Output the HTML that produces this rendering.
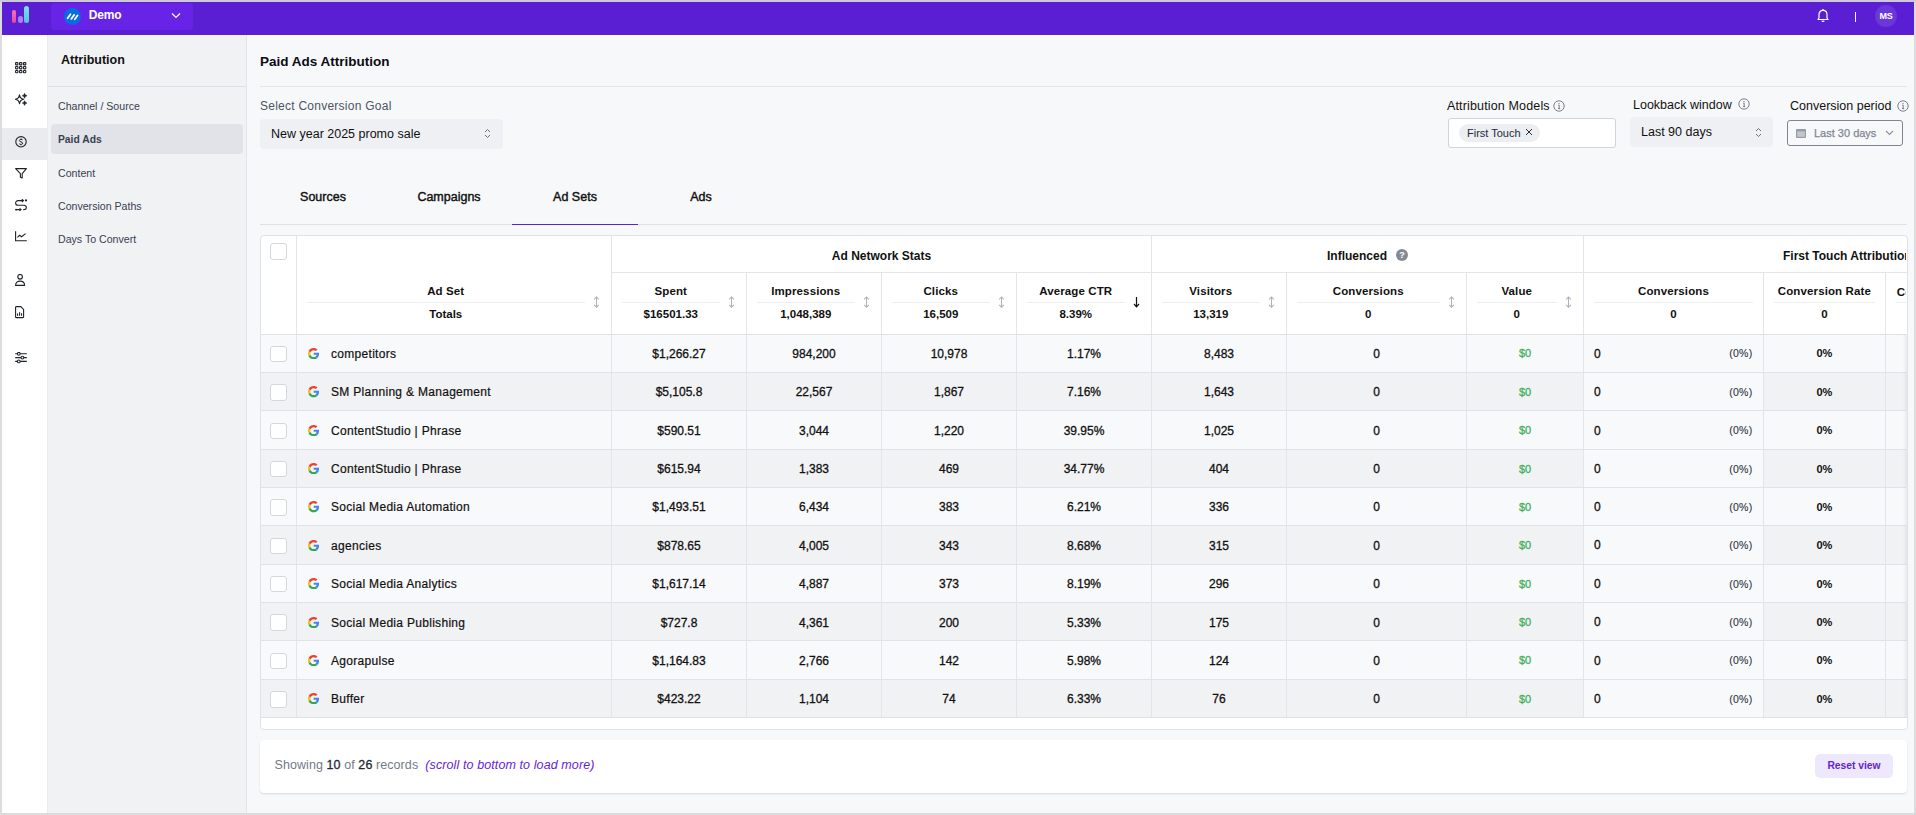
<!DOCTYPE html><html><head><meta charset="utf-8"><style>
*{box-sizing:border-box;margin:0;padding:0}
html,body{width:1916px;height:815px;overflow:hidden}
body{position:relative;background:#dcdcdc;font-family:"Liberation Sans",sans-serif;color:#111827}
.abs{position:absolute}
.t{position:absolute;white-space:nowrap;line-height:1}
.med{-webkit-text-stroke:0.25px currentColor}
</style></head><body>
<div class="abs" style="left:0;top:0;width:1916px;height:2px;background:#cfc8da"></div>
<div class="abs" style="left:2px;top:2px;width:1912px;height:811px;background:#f7f8fa;overflow:hidden">
<div class="abs" style="left:0;top:0;width:1912px;height:33px;background:#5a1fd3"></div>
<div class="abs" style="left:10px;top:8px;width:4px;height:13px;border-radius:2px;background:linear-gradient(#f472b6,#ec4899)"></div>
<div class="abs" style="left:16px;top:14px;width:5px;height:7px;border-radius:2.5px;background:#b07cf5"></div>
<div class="abs" style="left:22px;top:4px;width:5px;height:17px;border-radius:2.5px;background:linear-gradient(#7ee0ea,#4fc3e0)"></div>
<div class="abs" style="left:49px;top:0.5px;width:142px;height:27.5px;border-radius:4px;background:#6824e6"></div>
<div class="abs" style="left:62px;top:5.5px;width:17px;height:17px;border-radius:50%;background:#0a6ae0"></div>
<svg class="abs" style="left:62px;top:5.5px" width="17" height="17" viewBox="0 0 17 17"><g stroke="#f4f8ff" stroke-width="1.8" stroke-linecap="round"><path d="M3.6 10.2 L6.5 6.2"/><path d="M7.3 10.9 L10.2 6.9"/><path d="M10.8 11.2 L13.5 7.4"/></g></svg>
<div class="t" style="left:86.8px;top:7.4px;font-size:12px;letter-spacing:-0.2px;font-weight:700;color:#fff">Demo</div>
<svg class="abs" style="left:169.2px;top:10.2px" width="10" height="7" viewBox="0 0 10 7"><path d="M1 1.5 L5 5.5 L9 1.5" fill="none" stroke="#fff" stroke-width="1.2"/></svg>
<svg class="abs" style="left:1814px;top:6.4px" width="14" height="15" viewBox="0 0 14 15"><path d="M2 11.5 L3 10 L3 6.5 C3 4 4.6 2.3 7 2.3 C9.4 2.3 11 4 11 6.5 L11 10 L12 11.5 Z" fill="none" stroke="#fff" stroke-width="1.2" stroke-linejoin="round"/><path d="M5.8 12.8 C6.2 13.6 7.8 13.6 8.2 12.8" fill="none" stroke="#fff" stroke-width="1.2"/><circle cx="7" cy="1.8" r="0.8" fill="#fff"/></svg>
<div class="abs" style="left:1853px;top:10px;width:1px;height:10px;background:#fff"></div>
<div class="abs" style="left:1873px;top:3px;width:22px;height:22px;border-radius:50%;background:#6a38d8"></div>
<div class="t" style="left:1876px;top:9.5px;width:16px;text-align:center;font-size:9px;font-weight:700;color:#fff;letter-spacing:-0.2px">MS</div>
<div class="abs" style="left:0;top:33px;width:45px;height:778px;background:#fff"></div>
<div class="abs" style="left:0;top:126px;width:45px;height:32px;background:#e9ebef"></div>
<svg class="abs" style="left:12.9px;top:60.4px" width="12" height="12" viewBox="0 0 12 12"><rect x="0.60" y="0.60" width="2.3" height="2.3" rx="0.5" fill="none" stroke="#1f2328" stroke-width="1.1"/><rect x="0.60" y="4.55" width="2.3" height="2.3" rx="0.5" fill="none" stroke="#1f2328" stroke-width="1.1"/><rect x="0.60" y="8.50" width="2.3" height="2.3" rx="0.5" fill="none" stroke="#1f2328" stroke-width="1.1"/><rect x="4.55" y="0.60" width="2.3" height="2.3" rx="0.5" fill="none" stroke="#1f2328" stroke-width="1.1"/><rect x="4.55" y="4.55" width="2.3" height="2.3" rx="0.5" fill="none" stroke="#1f2328" stroke-width="1.1"/><rect x="4.55" y="8.50" width="2.3" height="2.3" rx="0.5" fill="none" stroke="#1f2328" stroke-width="1.1"/><rect x="8.50" y="0.60" width="2.3" height="2.3" rx="0.5" fill="none" stroke="#1f2328" stroke-width="1.1"/><rect x="8.50" y="4.55" width="2.3" height="2.3" rx="0.5" fill="none" stroke="#1f2328" stroke-width="1.1"/><rect x="8.50" y="8.50" width="2.3" height="2.3" rx="0.5" fill="none" stroke="#1f2328" stroke-width="1.1"/></svg>
<svg class="abs" style="left:12.9px;top:90.5px" width="16" height="16" viewBox="0 0 16 16"><g transform="translate(-2,-2)"><path d="M6.5 3.8 Q7.0 7.6 10.7 8.2 Q7.0 8.8 6.5 12.6 Q6.0 8.8 2.3 8.2 Q6.0 7.6 6.5 3.8 Z" fill="none" stroke="#1f2328" stroke-width="1.15" stroke-linejoin="round"/><path d="M11.6 2.3 Q12.0 4.4 14.1 4.8 Q12.0 5.2 11.6 7.3 Q11.2 5.2 9.1 4.8 Q11.2 4.4 11.6 2.3 Z M11.6 9.7 Q12.0 11.6 14.0 12.0 Q12.0 12.4 11.6 14.4 Q11.2 12.4 9.2 12.0 Q11.2 11.6 11.6 9.7 Z" fill="#1f2328" stroke="#1f2328" stroke-width="0.5" stroke-linejoin="round"/></g></svg>
<svg class="abs" style="left:12.9px;top:134.0px" width="12" height="12" viewBox="0 0 12 12"><circle cx="6" cy="5.8" r="5.2" fill="none" stroke="#1f2328" stroke-width="1.1"/><path d="M7.6 3.9 C7.2 3.2 4.4 3.0 4.4 4.6 C4.4 6.2 7.7 5.6 7.7 7.2 C7.7 8.7 5 8.6 4.3 7.8 M6 2.5 V3.3 M6 8.4 V9.2" fill="none" stroke="#1f2328" stroke-width="1"/></svg>
<svg class="abs" style="left:13.0px;top:166.4px" width="13" height="12" viewBox="0 0 13 12"><path d="M0.6 0.6 H11.4 L7.2 5.6 V10 L5.4 9.2 V5.6 Z" fill="none" stroke="#1f2328" stroke-width="1.1" stroke-linejoin="round"/></svg>
<svg class="abs" style="left:13.0px;top:196.8px" width="13" height="13" viewBox="0 0 13 13"><path d="M8.2 1.6 H3.2 C1.6 1.6 0.6 2.6 0.6 4 C0.6 5.5 1.6 6.3 3.2 6.3 H8.8 C10.3 6.3 11.3 7.1 11.3 8.5 C11.3 9.9 10.2 10.6 8.8 10.6 H8.2" fill="none" stroke="#1f2328" stroke-width="1.1"/><path d="M6.8 0.2 L8.4 1.6 L6.8 3" fill="none" stroke="#1f2328" stroke-width="1.1"/><circle cx="11" cy="1.4" r="1.1" fill="#1f2328"/><path d="M0.8 10.6 H5.8 M4.6 9.3 L6 10.6 L4.6 11.9" fill="none" stroke="#1f2328" stroke-width="1.1"/><circle cx="1" cy="10.6" r="0.9" fill="#1f2328"/></svg>
<svg class="abs" style="left:13.0px;top:229.2px" width="13" height="12" viewBox="0 0 13 12"><path d="M0.6 0.2 V9.8 H11.8" fill="none" stroke="#1f2328" stroke-width="1.1"/><path d="M2.4 6.4 L4.6 4.3 L6.6 5.8 L10.6 2.6" fill="none" stroke="#1f2328" stroke-width="1.1"/></svg>
<svg class="abs" style="left:13.0px;top:271.8px" width="12" height="13" viewBox="0 0 12 13"><circle cx="5.1" cy="2.8" r="2.3" fill="none" stroke="#1f2328" stroke-width="1.1"/><path d="M0.6 11.4 C0.6 8.4 2.6 7.1 5.1 7.1 C7.6 7.1 9.6 8.4 9.6 11.4 Z" fill="none" stroke="#1f2328" stroke-width="1.1" stroke-linejoin="round"/></svg>
<svg class="abs" style="left:13.0px;top:303.8px" width="11" height="13" viewBox="0 0 11 13"><path d="M1.4 0.6 H5.8 L8.6 3.4 V11 C8.6 11.4 8.3 11.6 7.9 11.6 H1.4 C1 11.6 0.6 11.3 0.6 10.9 V1.3 C0.6 0.9 1 0.6 1.4 0.6 Z" fill="none" stroke="#1f2328" stroke-width="1.1"/><path d="M2.6 7.6 V9.8 M4.6 6.2 V9.8 M6.6 7.2 V9.8" stroke="#1f2328" stroke-width="1.1"/></svg>
<svg class="abs" style="left:12.9px;top:350.0px" width="13" height="13" viewBox="0 0 13 13"><path d="M0.2 1.8 H2.4 M5.2 1.8 H11.8 M0.2 5.6 H6 M8.8 5.6 H11.8 M0.2 9.4 H2.4 M5.2 9.4 H11.8" stroke="#1f2328" stroke-width="1.1"/><circle cx="3.8" cy="1.8" r="1.4" fill="none" stroke="#1f2328" stroke-width="1.1"/><circle cx="7.4" cy="5.6" r="1.4" fill="none" stroke="#1f2328" stroke-width="1.1"/><circle cx="3.8" cy="9.4" r="1.4" fill="none" stroke="#1f2328" stroke-width="1.1"/></svg>
<div class="abs" style="left:45px;top:33px;width:200px;height:778px;background:#f1f2f4;border-left:1px solid #e8eaee;border-right:1px solid #e3e5e9"></div>
<div class="t" style="left:59px;top:52.2px;font-size:12.5px;font-weight:700;color:#111">Attribution</div>
<div class="abs" style="left:45px;top:84px;width:199px;height:1px;background:#dcdfe4"></div>
<div class="abs" style="left:49px;top:122px;width:192px;height:30px;border-radius:4px;background:#e1e3e8"></div>
<div class="t" style="left:56px;top:98.5px;font-size:10.6px;color:#374151">Channel / Source</div>
<div class="t" style="left:56px;top:132.5px;font-size:10.3px;font-weight:700;color:#1f2937;color:#374151">Paid Ads</div>
<div class="t" style="left:56px;top:165.5px;font-size:10.6px;color:#374151">Content</div>
<div class="t" style="left:56px;top:198.5px;font-size:10.6px;color:#374151">Conversion Paths</div>
<div class="t" style="left:56px;top:231.5px;font-size:10.6px;color:#374151">Days To Convert</div>
<div class="t" style="left:258px;top:53px;font-size:13.5px;font-weight:700;color:#0b0b12">Paid Ads Attribution</div>
<div class="abs" style="left:258px;top:84px;width:1647px;height:1px;background:#e3e5e9"></div>
<div class="t" style="left:258px;top:98.2px;font-size:12px;letter-spacing:0.25px;color:#4b5563">Select Conversion Goal</div>
<div class="abs" style="left:258px;top:117px;width:243px;height:30px;border-radius:4px;background:#eff0f3"></div>
<div class="t" style="left:269px;top:126px;font-size:12.5px;color:#111">New year 2025 promo sale</div>
<svg class="abs" style="left:482px;top:126px" width="7" height="11" viewBox="0 0 7 11"><path d="M1 4 L3.5 1.5 L6 4 M1 7 L3.5 9.5 L6 7" fill="none" stroke="#6b7280" stroke-width="1"/></svg>
<div class="t" style="left:1445px;top:98px;font-size:12.5px;letter-spacing:0.15px;color:#111">Attribution Models</div>
<svg class="abs" style="left:1551px;top:98px" width="12" height="12" viewBox="0 0 12 12"><circle cx="6" cy="6" r="5.2" fill="none" stroke="#6b7280" stroke-width="0.9"/><circle cx="6" cy="3.6" r="0.7" fill="#6b7280"/><path d="M5.2 5.2 H6.2 V8.6 M5 8.6 H7.2" fill="none" stroke="#6b7280" stroke-width="0.9"/></svg>
<div class="abs" style="left:1446px;top:116px;width:168px;height:30px;border-radius:3px;background:#fff;border:1px solid #d1d5db"></div>
<div class="abs" style="left:1457px;top:122px;width:81px;height:18px;border-radius:9px;background:#eceef2"></div>
<div class="t" style="left:1465px;top:126px;font-size:11px;color:#1f2937">First Touch</div>
<svg class="abs" style="left:1523px;top:126px" width="8" height="8" viewBox="0 0 8 8"><path d="M1 1 L7 7 M7 1 L1 7" stroke="#222" stroke-width="0.95"/></svg>
<div class="t" style="left:1631px;top:97px;font-size:12.5px;color:#111">Lookback window</div>
<svg class="abs" style="left:1736px;top:96px" width="12" height="12" viewBox="0 0 12 12"><circle cx="6" cy="6" r="5.2" fill="none" stroke="#6b7280" stroke-width="0.9"/><circle cx="6" cy="3.6" r="0.7" fill="#6b7280"/><path d="M5.2 5.2 H6.2 V8.6 M5 8.6 H7.2" fill="none" stroke="#6b7280" stroke-width="0.9"/></svg>
<div class="abs" style="left:1628px;top:115px;width:143px;height:30px;border-radius:4px;background:#eff0f3"></div>
<div class="t" style="left:1639px;top:124px;font-size:12.5px;color:#111">Last 90 days</div>
<svg class="abs" style="left:1753px;top:125px" width="7" height="11" viewBox="0 0 7 11"><path d="M1 4 L3.5 1.5 L6 4 M1 7 L3.5 9.5 L6 7" fill="none" stroke="#6b7280" stroke-width="1"/></svg>
<div class="t" style="left:1788px;top:98px;font-size:12.5px;color:#111">Conversion period</div>
<svg class="abs" style="left:1895px;top:98px" width="12" height="12" viewBox="0 0 12 12"><circle cx="6" cy="6" r="5.2" fill="none" stroke="#6b7280" stroke-width="0.9"/><circle cx="6" cy="3.6" r="0.7" fill="#6b7280"/><path d="M5.2 5.2 H6.2 V8.6 M5 8.6 H7.2" fill="none" stroke="#6b7280" stroke-width="0.9"/></svg>
<div class="abs" style="left:1785px;top:118px;width:116px;height:26px;border-radius:3px;background:transparent;border:1px solid #7d858f"></div>
<svg class="abs" style="left:1794px;top:126.8px" width="10" height="9" viewBox="0 0 10 9"><rect x="0" y="0" width="10" height="9" rx="1" fill="#959ca6"/><rect x="1.2" y="2.4" width="7.6" height="5.4" fill="#c3c7cd"/></svg>
<div class="t" style="left:1812px;top:126.2px;font-size:11px;color:#7f8793;-webkit-text-stroke:0.25px #7f8793">Last 30 days</div>
<svg class="abs" style="left:1883px;top:128.3px" width="9" height="6" viewBox="0 0 9 6"><path d="M1 1 L4.5 4.5 L8 1" fill="none" stroke="#8b929c" stroke-width="1.1"/></svg>
<div class="abs" style="left:258px;top:222px;width:1647px;height:1px;background:#dfe2e6"></div>
<div class="t" style="left:258px;top:189px;width:126px;text-align:center;font-size:12.5px;color:#111;-webkit-text-stroke:0.4px #111">Sources</div>
<div class="t" style="left:384px;top:189px;width:126px;text-align:center;font-size:12.5px;color:#111;-webkit-text-stroke:0.4px #111">Campaigns</div>
<div class="t" style="left:510px;top:189px;width:126px;text-align:center;font-size:12.5px;color:#111;-webkit-text-stroke:0.4px #111">Ad Sets</div>
<div class="t" style="left:636px;top:189px;width:126px;text-align:center;font-size:12.5px;color:#111;-webkit-text-stroke:0.4px #111">Ads</div>
<div class="abs" style="left:510px;top:221.8px;width:126px;height:1.3px;background:#5a22d2"></div>
</div>
<div class="abs" style="left:260px;top:235px;width:1648px;height:495px;background:#fff;border:1px solid #dfe2e7;border-radius:4px"></div>
<div class="abs" style="left:261px;top:334.0px;width:1646px;height:38.36px;background:#f8f9fb"></div>
<div class="abs" style="left:261px;top:372.4px;width:1646px;height:38.36px;background:#f1f2f4"></div>
<div class="abs" style="left:1584px;top:372.4px;width:179px;height:38.36px;background:#f8f9fb"></div>
<div class="abs" style="left:261px;top:410.7px;width:1646px;height:38.36px;background:#f8f9fb"></div>
<div class="abs" style="left:261px;top:449.1px;width:1646px;height:38.36px;background:#f1f2f4"></div>
<div class="abs" style="left:1584px;top:449.1px;width:179px;height:38.36px;background:#f8f9fb"></div>
<div class="abs" style="left:261px;top:487.4px;width:1646px;height:38.36px;background:#f8f9fb"></div>
<div class="abs" style="left:261px;top:525.8px;width:1646px;height:38.36px;background:#f1f2f4"></div>
<div class="abs" style="left:1584px;top:525.8px;width:179px;height:38.36px;background:#f8f9fb"></div>
<div class="abs" style="left:261px;top:564.2px;width:1646px;height:38.36px;background:#f8f9fb"></div>
<div class="abs" style="left:261px;top:602.5px;width:1646px;height:38.36px;background:#f1f2f4"></div>
<div class="abs" style="left:1584px;top:602.5px;width:179px;height:38.36px;background:#f8f9fb"></div>
<div class="abs" style="left:261px;top:640.9px;width:1646px;height:38.36px;background:#f8f9fb"></div>
<div class="abs" style="left:261px;top:679.2px;width:1646px;height:38.36px;background:#f1f2f4"></div>
<div class="abs" style="left:1584px;top:679.2px;width:179px;height:38.36px;background:#f8f9fb"></div>
<div class="abs" style="left:296.0px;top:235.5px;width:1px;height:482.1px;background:#e2e5ea"></div>
<div class="abs" style="left:611.0px;top:235.5px;width:1px;height:482.1px;background:#e2e5ea"></div>
<div class="abs" style="left:611.5px;top:271.8px;width:1295.5px;height:1px;background:#e2e5ea"></div>
<div class="abs" style="left:1151.0px;top:235.5px;width:1px;height:482.1px;background:#e2e5ea"></div>
<div class="abs" style="left:1583.0px;top:235.5px;width:1px;height:482.1px;background:#e2e5ea"></div>
<div class="abs" style="left:746.0px;top:272.3px;width:1px;height:445.3px;background:#e2e5ea"></div>
<div class="abs" style="left:881.0px;top:272.3px;width:1px;height:445.3px;background:#e2e5ea"></div>
<div class="abs" style="left:1016.0px;top:272.3px;width:1px;height:445.3px;background:#e2e5ea"></div>
<div class="abs" style="left:1286.0px;top:272.3px;width:1px;height:445.3px;background:#e2e5ea"></div>
<div class="abs" style="left:1466.0px;top:272.3px;width:1px;height:445.3px;background:#e2e5ea"></div>
<div class="abs" style="left:1763.0px;top:272.3px;width:1px;height:445.3px;background:#e2e5ea"></div>
<div class="abs" style="left:1884.8px;top:272.3px;width:1px;height:445.3px;background:#e2e5ea"></div>
<div class="abs" style="left:261.0px;top:333.5px;width:1645.0px;height:1px;background:#dfe2e7"></div>
<div class="abs" style="left:261.0px;top:371.9px;width:1645.0px;height:1px;background:#dfe2e7"></div>
<div class="abs" style="left:261.0px;top:410.2px;width:1645.0px;height:1px;background:#dfe2e7"></div>
<div class="abs" style="left:261.0px;top:448.6px;width:1645.0px;height:1px;background:#dfe2e7"></div>
<div class="abs" style="left:261.0px;top:486.9px;width:1645.0px;height:1px;background:#dfe2e7"></div>
<div class="abs" style="left:261.0px;top:525.3px;width:1645.0px;height:1px;background:#dfe2e7"></div>
<div class="abs" style="left:261.0px;top:563.7px;width:1645.0px;height:1px;background:#dfe2e7"></div>
<div class="abs" style="left:261.0px;top:602.0px;width:1645.0px;height:1px;background:#dfe2e7"></div>
<div class="abs" style="left:261.0px;top:640.4px;width:1645.0px;height:1px;background:#dfe2e7"></div>
<div class="abs" style="left:261.0px;top:678.7px;width:1645.0px;height:1px;background:#dfe2e7"></div>
<div class="abs" style="left:261.0px;top:717.1px;width:1645.0px;height:1px;background:#dfe2e7"></div>
<div class="abs" style="left:270.2px;top:243.0px;width:16.5px;height:16.5px;border:1px solid #d3d7de;border-radius:3px;background:#fff"></div>
<div class="t" style="left:611.5px;top:249.5px;width:540.0px;text-align:center;font-size:12px;font-weight:700;color:#111">Ad Network Stats</div>
<div class="t" style="left:1327.0px;top:249.5px;font-size:12px;font-weight:700;color:#111">Influenced</div>
<div class="abs" style="left:1396px;top:249px;width:12px;height:12px;border-radius:50%;background:#858b94"></div>
<div class="t" style="left:1396.0px;top:251.0px;width:12.0px;text-align:center;font-size:9px;font-weight:700;color:#fff">?</div>
<div class="abs" style="left:1584px;top:236px;width:322px;height:36px;overflow:hidden"><div class="t" style="left:199px;top:13.5px;font-size:12px;font-weight:700;color:#111">First Touch Attribution</div></div>
<div class="abs" style="left:307.0px;top:302.0px;width:277.5px;height:1px;background:#eceef1"></div>
<div class="t" style="left:307.0px;top:286.0px;width:277.5px;text-align:center;font-size:11.5px;font-weight:700;color:#111;letter-spacing:0.12px">Ad Set</div>
<div class="t" style="left:307.0px;top:308.5px;width:277.5px;text-align:center;font-size:11.5px;font-weight:700;color:#111">Totals</div>
<svg class="abs" style="left:593.0px;top:296.0px" width="7" height="13" viewBox="0 0 7 13"><path d="M3.5 1.2 V11 M1.1 3.4 L3.5 1.0 L5.9 3.4 M1.1 8.8 L3.5 11.2 L5.9 8.8" fill="none" stroke="#adb3bc" stroke-width="1.05"/></svg>
<div class="abs" style="left:622.0px;top:302.0px;width:97.5px;height:1px;background:#eceef1"></div>
<div class="t" style="left:622.0px;top:286.1px;width:97.5px;text-align:center;font-size:11.5px;font-weight:700;color:#111;letter-spacing:0.12px">Spent</div>
<div class="t" style="left:622.0px;top:309.0px;width:97.5px;text-align:center;font-size:11.5px;font-weight:700;color:#111">$16501.33</div>
<svg class="abs" style="left:728.0px;top:296.0px" width="7" height="13" viewBox="0 0 7 13"><path d="M3.5 1.2 V11 M1.1 3.4 L3.5 1.0 L5.9 3.4 M1.1 8.8 L3.5 11.2 L5.9 8.8" fill="none" stroke="#adb3bc" stroke-width="1.05"/></svg>
<div class="abs" style="left:757.0px;top:302.0px;width:97.5px;height:1px;background:#eceef1"></div>
<div class="t" style="left:757.0px;top:286.1px;width:97.5px;text-align:center;font-size:11.5px;font-weight:700;color:#111;letter-spacing:0.12px">Impressions</div>
<div class="t" style="left:757.0px;top:309.0px;width:97.5px;text-align:center;font-size:11.5px;font-weight:700;color:#111">1,048,389</div>
<svg class="abs" style="left:863.0px;top:296.0px" width="7" height="13" viewBox="0 0 7 13"><path d="M3.5 1.2 V11 M1.1 3.4 L3.5 1.0 L5.9 3.4 M1.1 8.8 L3.5 11.2 L5.9 8.8" fill="none" stroke="#adb3bc" stroke-width="1.05"/></svg>
<div class="abs" style="left:892.0px;top:302.0px;width:97.5px;height:1px;background:#eceef1"></div>
<div class="t" style="left:892.0px;top:286.1px;width:97.5px;text-align:center;font-size:11.5px;font-weight:700;color:#111;letter-spacing:0.12px">Clicks</div>
<div class="t" style="left:892.0px;top:309.0px;width:97.5px;text-align:center;font-size:11.5px;font-weight:700;color:#111">16,509</div>
<svg class="abs" style="left:998.0px;top:296.0px" width="7" height="13" viewBox="0 0 7 13"><path d="M3.5 1.2 V11 M1.1 3.4 L3.5 1.0 L5.9 3.4 M1.1 8.8 L3.5 11.2 L5.9 8.8" fill="none" stroke="#adb3bc" stroke-width="1.05"/></svg>
<div class="abs" style="left:1027.0px;top:302.0px;width:97.5px;height:1px;background:#eceef1"></div>
<div class="t" style="left:1027.0px;top:286.1px;width:97.5px;text-align:center;font-size:11.5px;font-weight:700;color:#111;letter-spacing:0.12px">Average CTR</div>
<div class="t" style="left:1027.0px;top:309.0px;width:97.5px;text-align:center;font-size:11.5px;font-weight:700;color:#111">8.39%</div>
<svg class="abs" style="left:1133.0px;top:296.0px" width="7" height="12" viewBox="0 0 7 12"><path d="M3.5 1 V10.5 M1 8 L3.5 10.8 L6 8" fill="none" stroke="#111" stroke-width="1.2"/></svg>
<div class="abs" style="left:1162.0px;top:302.0px;width:97.5px;height:1px;background:#eceef1"></div>
<div class="t" style="left:1162.0px;top:286.1px;width:97.5px;text-align:center;font-size:11.5px;font-weight:700;color:#111;letter-spacing:0.12px">Visitors</div>
<div class="t" style="left:1162.0px;top:309.0px;width:97.5px;text-align:center;font-size:11.5px;font-weight:700;color:#111">13,319</div>
<svg class="abs" style="left:1268.0px;top:296.0px" width="7" height="13" viewBox="0 0 7 13"><path d="M3.5 1.2 V11 M1.1 3.4 L3.5 1.0 L5.9 3.4 M1.1 8.8 L3.5 11.2 L5.9 8.8" fill="none" stroke="#adb3bc" stroke-width="1.05"/></svg>
<div class="abs" style="left:1297.0px;top:302.0px;width:142.5px;height:1px;background:#eceef1"></div>
<div class="t" style="left:1297.0px;top:286.1px;width:142.5px;text-align:center;font-size:11.5px;font-weight:700;color:#111;letter-spacing:0.12px">Conversions</div>
<div class="t" style="left:1297.0px;top:309.0px;width:142.5px;text-align:center;font-size:11.5px;font-weight:700;color:#111">0</div>
<svg class="abs" style="left:1448.0px;top:296.0px" width="7" height="13" viewBox="0 0 7 13"><path d="M3.5 1.2 V11 M1.1 3.4 L3.5 1.0 L5.9 3.4 M1.1 8.8 L3.5 11.2 L5.9 8.8" fill="none" stroke="#adb3bc" stroke-width="1.05"/></svg>
<div class="abs" style="left:1477.0px;top:302.0px;width:79.5px;height:1px;background:#eceef1"></div>
<div class="t" style="left:1477.0px;top:286.1px;width:79.5px;text-align:center;font-size:11.5px;font-weight:700;color:#111;letter-spacing:0.12px">Value</div>
<div class="t" style="left:1477.0px;top:309.0px;width:79.5px;text-align:center;font-size:11.5px;font-weight:700;color:#111">0</div>
<svg class="abs" style="left:1565.0px;top:296.0px" width="7" height="13" viewBox="0 0 7 13"><path d="M3.5 1.2 V11 M1.1 3.4 L3.5 1.0 L5.9 3.4 M1.1 8.8 L3.5 11.2 L5.9 8.8" fill="none" stroke="#adb3bc" stroke-width="1.05"/></svg>
<div class="abs" style="left:1594.0px;top:302.0px;width:159.0px;height:1px;background:#eceef1"></div>
<div class="t" style="left:1594.0px;top:286.1px;width:159.0px;text-align:center;font-size:11.5px;font-weight:700;color:#111;letter-spacing:0.12px">Conversions</div>
<div class="t" style="left:1594.0px;top:309.0px;width:159.0px;text-align:center;font-size:11.5px;font-weight:700;color:#111">0</div>
<div class="abs" style="left:1774.0px;top:302.0px;width:100.8px;height:1px;background:#eceef1"></div>
<div class="t" style="left:1774.0px;top:286.1px;width:100.8px;text-align:center;font-size:11.5px;font-weight:700;color:#111;letter-spacing:0.12px">Conversion Rate</div>
<div class="t" style="left:1774.0px;top:309.0px;width:100.8px;text-align:center;font-size:11.5px;font-weight:700;color:#111">0</div>
<div class="abs" style="left:1885.8px;top:273px;width:20.5px;height:60px;overflow:hidden">
<div class="abs" style="left:10.5px;top:29px;width:60px;height:1px;background:#eceef1"></div>
<div class="t" style="left:11px;top:13.5px;font-size:11.5px;font-weight:700;color:#111;letter-spacing:0.12px">Conversions</div>
</div>
<div class="abs" style="left:270.2px;top:345.8px;width:16.5px;height:16.5px;border:1px solid #d3d7de;border-radius:3px;background:#fff"></div>
<svg class="abs" style="left:308.2px;top:348.0px" width="11.3" height="11.3" viewBox="0 0 48 48"><path fill="#EA4335" d="M24 9.5c3.54 0 6.71 1.22 9.21 3.6l6.85-6.85C35.9 2.38 30.47 0 24 0 14.62 0 6.51 5.38 2.56 13.22l7.98 6.19C12.43 13.72 17.74 9.5 24 9.5z"/><path fill="#4285F4" d="M46.98 24.55c0-1.57-.15-3.09-.38-4.55H24v9.02h12.94c-.58 2.96-2.26 5.48-4.78 7.18l7.73 6c4.51-4.18 7.09-10.36 7.09-17.65z"/><path fill="#FBBC05" d="M10.53 28.59c-.48-1.45-.76-2.99-.76-4.59s.27-3.14.76-4.59l-7.98-6.19C.92 16.46 0 20.12 0 24c0 3.88.92 7.54 2.56 10.78l7.97-6.19z"/><path fill="#34A853" d="M24 48c6.48 0 11.93-2.13 15.89-5.81l-7.73-6c-2.15 1.45-4.92 2.3-8.16 2.3-6.26 0-11.57-4.22-13.47-9.91l-7.98 6.19C6.51 42.62 14.62 48 24 48z"/></svg>
<div class="t" style="left:331.0px;top:348.0px;font-size:12px;color:#111;letter-spacing:0.3px;-webkit-text-stroke:0.2px #111">competitors</div>
<div class="t" style="left:611.5px;top:348.0px;width:135.0px;text-align:center;font-size:12px;color:#111;-webkit-text-stroke:0.3px #111">$1,266.27</div>
<div class="t" style="left:746.5px;top:348.0px;width:135.0px;text-align:center;font-size:12px;color:#111;-webkit-text-stroke:0.3px #111">984,200</div>
<div class="t" style="left:881.5px;top:348.0px;width:135.0px;text-align:center;font-size:12px;color:#111;-webkit-text-stroke:0.3px #111">10,978</div>
<div class="t" style="left:1016.5px;top:348.0px;width:135.0px;text-align:center;font-size:12px;color:#111;-webkit-text-stroke:0.3px #111">1.17%</div>
<div class="t" style="left:1151.5px;top:348.0px;width:135.0px;text-align:center;font-size:12px;color:#111;-webkit-text-stroke:0.3px #111">8,483</div>
<div class="t" style="left:1286.5px;top:348.0px;width:180.0px;text-align:center;font-size:12px;color:#111;-webkit-text-stroke:0.3px #111">0</div>
<div class="t" style="left:1466.5px;top:348.4px;width:117.0px;text-align:center;font-size:11px;color:#44b05c;-webkit-text-stroke:0.3px #44b05c">$0</div>
<div class="t" style="left:1594.0px;top:348.0px;font-size:12px;color:#111;-webkit-text-stroke:0.3px #111">0</div>
<div class="t" style="left:1700.0px;top:348.4px;width:52.5px;text-align:right;font-size:10.5px;color:#2b3340;-webkit-text-stroke:0.1px #2b3340;letter-spacing:0.3px">(0%)</div>
<div class="t" style="left:1763.5px;top:348.4px;width:121.8px;text-align:center;font-size:11px;font-weight:700;color:#111">0%</div>
<div class="abs" style="left:270.2px;top:384.1px;width:16.5px;height:16.5px;border:1px solid #d3d7de;border-radius:3px;background:#fff"></div>
<svg class="abs" style="left:308.2px;top:386.3px" width="11.3" height="11.3" viewBox="0 0 48 48"><path fill="#EA4335" d="M24 9.5c3.54 0 6.71 1.22 9.21 3.6l6.85-6.85C35.9 2.38 30.47 0 24 0 14.62 0 6.51 5.38 2.56 13.22l7.98 6.19C12.43 13.72 17.74 9.5 24 9.5z"/><path fill="#4285F4" d="M46.98 24.55c0-1.57-.15-3.09-.38-4.55H24v9.02h12.94c-.58 2.96-2.26 5.48-4.78 7.18l7.73 6c4.51-4.18 7.09-10.36 7.09-17.65z"/><path fill="#FBBC05" d="M10.53 28.59c-.48-1.45-.76-2.99-.76-4.59s.27-3.14.76-4.59l-7.98-6.19C.92 16.46 0 20.12 0 24c0 3.88.92 7.54 2.56 10.78l7.97-6.19z"/><path fill="#34A853" d="M24 48c6.48 0 11.93-2.13 15.89-5.81l-7.73-6c-2.15 1.45-4.92 2.3-8.16 2.3-6.26 0-11.57-4.22-13.47-9.91l-7.98 6.19C6.51 42.62 14.62 48 24 48z"/></svg>
<div class="t" style="left:331.0px;top:386.3px;font-size:12px;color:#111;letter-spacing:0.3px;-webkit-text-stroke:0.2px #111">SM Planning &amp; Management</div>
<div class="t" style="left:611.5px;top:386.3px;width:135.0px;text-align:center;font-size:12px;color:#111;-webkit-text-stroke:0.3px #111">$5,105.8</div>
<div class="t" style="left:746.5px;top:386.3px;width:135.0px;text-align:center;font-size:12px;color:#111;-webkit-text-stroke:0.3px #111">22,567</div>
<div class="t" style="left:881.5px;top:386.3px;width:135.0px;text-align:center;font-size:12px;color:#111;-webkit-text-stroke:0.3px #111">1,867</div>
<div class="t" style="left:1016.5px;top:386.3px;width:135.0px;text-align:center;font-size:12px;color:#111;-webkit-text-stroke:0.3px #111">7.16%</div>
<div class="t" style="left:1151.5px;top:386.3px;width:135.0px;text-align:center;font-size:12px;color:#111;-webkit-text-stroke:0.3px #111">1,643</div>
<div class="t" style="left:1286.5px;top:386.3px;width:180.0px;text-align:center;font-size:12px;color:#111;-webkit-text-stroke:0.3px #111">0</div>
<div class="t" style="left:1466.5px;top:386.7px;width:117.0px;text-align:center;font-size:11px;color:#44b05c;-webkit-text-stroke:0.3px #44b05c">$0</div>
<div class="t" style="left:1594.0px;top:385.8px;font-size:12px;color:#111;-webkit-text-stroke:0.3px #111">0</div>
<div class="t" style="left:1700.0px;top:386.7px;width:52.5px;text-align:right;font-size:10.5px;color:#2b3340;-webkit-text-stroke:0.1px #2b3340;letter-spacing:0.3px">(0%)</div>
<div class="t" style="left:1763.5px;top:386.7px;width:121.8px;text-align:center;font-size:11px;font-weight:700;color:#111">0%</div>
<div class="abs" style="left:270.2px;top:422.5px;width:16.5px;height:16.5px;border:1px solid #d3d7de;border-radius:3px;background:#fff"></div>
<svg class="abs" style="left:308.2px;top:424.7px" width="11.3" height="11.3" viewBox="0 0 48 48"><path fill="#EA4335" d="M24 9.5c3.54 0 6.71 1.22 9.21 3.6l6.85-6.85C35.9 2.38 30.47 0 24 0 14.62 0 6.51 5.38 2.56 13.22l7.98 6.19C12.43 13.72 17.74 9.5 24 9.5z"/><path fill="#4285F4" d="M46.98 24.55c0-1.57-.15-3.09-.38-4.55H24v9.02h12.94c-.58 2.96-2.26 5.48-4.78 7.18l7.73 6c4.51-4.18 7.09-10.36 7.09-17.65z"/><path fill="#FBBC05" d="M10.53 28.59c-.48-1.45-.76-2.99-.76-4.59s.27-3.14.76-4.59l-7.98-6.19C.92 16.46 0 20.12 0 24c0 3.88.92 7.54 2.56 10.78l7.97-6.19z"/><path fill="#34A853" d="M24 48c6.48 0 11.93-2.13 15.89-5.81l-7.73-6c-2.15 1.45-4.92 2.3-8.16 2.3-6.26 0-11.57-4.22-13.47-9.91l-7.98 6.19C6.51 42.62 14.62 48 24 48z"/></svg>
<div class="t" style="left:331.0px;top:424.7px;font-size:12px;color:#111;letter-spacing:0.3px;-webkit-text-stroke:0.2px #111">ContentStudio | Phrase</div>
<div class="t" style="left:611.5px;top:424.7px;width:135.0px;text-align:center;font-size:12px;color:#111;-webkit-text-stroke:0.3px #111">$590.51</div>
<div class="t" style="left:746.5px;top:424.7px;width:135.0px;text-align:center;font-size:12px;color:#111;-webkit-text-stroke:0.3px #111">3,044</div>
<div class="t" style="left:881.5px;top:424.7px;width:135.0px;text-align:center;font-size:12px;color:#111;-webkit-text-stroke:0.3px #111">1,220</div>
<div class="t" style="left:1016.5px;top:424.7px;width:135.0px;text-align:center;font-size:12px;color:#111;-webkit-text-stroke:0.3px #111">39.95%</div>
<div class="t" style="left:1151.5px;top:424.7px;width:135.0px;text-align:center;font-size:12px;color:#111;-webkit-text-stroke:0.3px #111">1,025</div>
<div class="t" style="left:1286.5px;top:424.7px;width:180.0px;text-align:center;font-size:12px;color:#111;-webkit-text-stroke:0.3px #111">0</div>
<div class="t" style="left:1466.5px;top:425.1px;width:117.0px;text-align:center;font-size:11px;color:#44b05c;-webkit-text-stroke:0.3px #44b05c">$0</div>
<div class="t" style="left:1594.0px;top:424.7px;font-size:12px;color:#111;-webkit-text-stroke:0.3px #111">0</div>
<div class="t" style="left:1700.0px;top:425.1px;width:52.5px;text-align:right;font-size:10.5px;color:#2b3340;-webkit-text-stroke:0.1px #2b3340;letter-spacing:0.3px">(0%)</div>
<div class="t" style="left:1763.5px;top:425.1px;width:121.8px;text-align:center;font-size:11px;font-weight:700;color:#111">0%</div>
<div class="abs" style="left:270.2px;top:460.9px;width:16.5px;height:16.5px;border:1px solid #d3d7de;border-radius:3px;background:#fff"></div>
<svg class="abs" style="left:308.2px;top:463.1px" width="11.3" height="11.3" viewBox="0 0 48 48"><path fill="#EA4335" d="M24 9.5c3.54 0 6.71 1.22 9.21 3.6l6.85-6.85C35.9 2.38 30.47 0 24 0 14.62 0 6.51 5.38 2.56 13.22l7.98 6.19C12.43 13.72 17.74 9.5 24 9.5z"/><path fill="#4285F4" d="M46.98 24.55c0-1.57-.15-3.09-.38-4.55H24v9.02h12.94c-.58 2.96-2.26 5.48-4.78 7.18l7.73 6c4.51-4.18 7.09-10.36 7.09-17.65z"/><path fill="#FBBC05" d="M10.53 28.59c-.48-1.45-.76-2.99-.76-4.59s.27-3.14.76-4.59l-7.98-6.19C.92 16.46 0 20.12 0 24c0 3.88.92 7.54 2.56 10.78l7.97-6.19z"/><path fill="#34A853" d="M24 48c6.48 0 11.93-2.13 15.89-5.81l-7.73-6c-2.15 1.45-4.92 2.3-8.16 2.3-6.26 0-11.57-4.22-13.47-9.91l-7.98 6.19C6.51 42.62 14.62 48 24 48z"/></svg>
<div class="t" style="left:331.0px;top:463.1px;font-size:12px;color:#111;letter-spacing:0.3px;-webkit-text-stroke:0.2px #111">ContentStudio | Phrase</div>
<div class="t" style="left:611.5px;top:463.1px;width:135.0px;text-align:center;font-size:12px;color:#111;-webkit-text-stroke:0.3px #111">$615.94</div>
<div class="t" style="left:746.5px;top:463.1px;width:135.0px;text-align:center;font-size:12px;color:#111;-webkit-text-stroke:0.3px #111">1,383</div>
<div class="t" style="left:881.5px;top:463.1px;width:135.0px;text-align:center;font-size:12px;color:#111;-webkit-text-stroke:0.3px #111">469</div>
<div class="t" style="left:1016.5px;top:463.1px;width:135.0px;text-align:center;font-size:12px;color:#111;-webkit-text-stroke:0.3px #111">34.77%</div>
<div class="t" style="left:1151.5px;top:463.1px;width:135.0px;text-align:center;font-size:12px;color:#111;-webkit-text-stroke:0.3px #111">404</div>
<div class="t" style="left:1286.5px;top:463.1px;width:180.0px;text-align:center;font-size:12px;color:#111;-webkit-text-stroke:0.3px #111">0</div>
<div class="t" style="left:1466.5px;top:463.5px;width:117.0px;text-align:center;font-size:11px;color:#44b05c;-webkit-text-stroke:0.3px #44b05c">$0</div>
<div class="t" style="left:1594.0px;top:462.6px;font-size:12px;color:#111;-webkit-text-stroke:0.3px #111">0</div>
<div class="t" style="left:1700.0px;top:463.5px;width:52.5px;text-align:right;font-size:10.5px;color:#2b3340;-webkit-text-stroke:0.1px #2b3340;letter-spacing:0.3px">(0%)</div>
<div class="t" style="left:1763.5px;top:463.5px;width:121.8px;text-align:center;font-size:11px;font-weight:700;color:#111">0%</div>
<div class="abs" style="left:270.2px;top:499.2px;width:16.5px;height:16.5px;border:1px solid #d3d7de;border-radius:3px;background:#fff"></div>
<svg class="abs" style="left:308.2px;top:501.4px" width="11.3" height="11.3" viewBox="0 0 48 48"><path fill="#EA4335" d="M24 9.5c3.54 0 6.71 1.22 9.21 3.6l6.85-6.85C35.9 2.38 30.47 0 24 0 14.62 0 6.51 5.38 2.56 13.22l7.98 6.19C12.43 13.72 17.74 9.5 24 9.5z"/><path fill="#4285F4" d="M46.98 24.55c0-1.57-.15-3.09-.38-4.55H24v9.02h12.94c-.58 2.96-2.26 5.48-4.78 7.18l7.73 6c4.51-4.18 7.09-10.36 7.09-17.65z"/><path fill="#FBBC05" d="M10.53 28.59c-.48-1.45-.76-2.99-.76-4.59s.27-3.14.76-4.59l-7.98-6.19C.92 16.46 0 20.12 0 24c0 3.88.92 7.54 2.56 10.78l7.97-6.19z"/><path fill="#34A853" d="M24 48c6.48 0 11.93-2.13 15.89-5.81l-7.73-6c-2.15 1.45-4.92 2.3-8.16 2.3-6.26 0-11.57-4.22-13.47-9.91l-7.98 6.19C6.51 42.62 14.62 48 24 48z"/></svg>
<div class="t" style="left:331.0px;top:501.4px;font-size:12px;color:#111;letter-spacing:0.3px;-webkit-text-stroke:0.2px #111">Social Media Automation</div>
<div class="t" style="left:611.5px;top:501.4px;width:135.0px;text-align:center;font-size:12px;color:#111;-webkit-text-stroke:0.3px #111">$1,493.51</div>
<div class="t" style="left:746.5px;top:501.4px;width:135.0px;text-align:center;font-size:12px;color:#111;-webkit-text-stroke:0.3px #111">6,434</div>
<div class="t" style="left:881.5px;top:501.4px;width:135.0px;text-align:center;font-size:12px;color:#111;-webkit-text-stroke:0.3px #111">383</div>
<div class="t" style="left:1016.5px;top:501.4px;width:135.0px;text-align:center;font-size:12px;color:#111;-webkit-text-stroke:0.3px #111">6.21%</div>
<div class="t" style="left:1151.5px;top:501.4px;width:135.0px;text-align:center;font-size:12px;color:#111;-webkit-text-stroke:0.3px #111">336</div>
<div class="t" style="left:1286.5px;top:501.4px;width:180.0px;text-align:center;font-size:12px;color:#111;-webkit-text-stroke:0.3px #111">0</div>
<div class="t" style="left:1466.5px;top:501.8px;width:117.0px;text-align:center;font-size:11px;color:#44b05c;-webkit-text-stroke:0.3px #44b05c">$0</div>
<div class="t" style="left:1594.0px;top:501.4px;font-size:12px;color:#111;-webkit-text-stroke:0.3px #111">0</div>
<div class="t" style="left:1700.0px;top:501.8px;width:52.5px;text-align:right;font-size:10.5px;color:#2b3340;-webkit-text-stroke:0.1px #2b3340;letter-spacing:0.3px">(0%)</div>
<div class="t" style="left:1763.5px;top:501.8px;width:121.8px;text-align:center;font-size:11px;font-weight:700;color:#111">0%</div>
<div class="abs" style="left:270.2px;top:537.6px;width:16.5px;height:16.5px;border:1px solid #d3d7de;border-radius:3px;background:#fff"></div>
<svg class="abs" style="left:308.2px;top:539.8px" width="11.3" height="11.3" viewBox="0 0 48 48"><path fill="#EA4335" d="M24 9.5c3.54 0 6.71 1.22 9.21 3.6l6.85-6.85C35.9 2.38 30.47 0 24 0 14.62 0 6.51 5.38 2.56 13.22l7.98 6.19C12.43 13.72 17.74 9.5 24 9.5z"/><path fill="#4285F4" d="M46.98 24.55c0-1.57-.15-3.09-.38-4.55H24v9.02h12.94c-.58 2.96-2.26 5.48-4.78 7.18l7.73 6c4.51-4.18 7.09-10.36 7.09-17.65z"/><path fill="#FBBC05" d="M10.53 28.59c-.48-1.45-.76-2.99-.76-4.59s.27-3.14.76-4.59l-7.98-6.19C.92 16.46 0 20.12 0 24c0 3.88.92 7.54 2.56 10.78l7.97-6.19z"/><path fill="#34A853" d="M24 48c6.48 0 11.93-2.13 15.89-5.81l-7.73-6c-2.15 1.45-4.92 2.3-8.16 2.3-6.26 0-11.57-4.22-13.47-9.91l-7.98 6.19C6.51 42.62 14.62 48 24 48z"/></svg>
<div class="t" style="left:331.0px;top:539.8px;font-size:12px;color:#111;letter-spacing:0.3px;-webkit-text-stroke:0.2px #111">agencies</div>
<div class="t" style="left:611.5px;top:539.8px;width:135.0px;text-align:center;font-size:12px;color:#111;-webkit-text-stroke:0.3px #111">$878.65</div>
<div class="t" style="left:746.5px;top:539.8px;width:135.0px;text-align:center;font-size:12px;color:#111;-webkit-text-stroke:0.3px #111">4,005</div>
<div class="t" style="left:881.5px;top:539.8px;width:135.0px;text-align:center;font-size:12px;color:#111;-webkit-text-stroke:0.3px #111">343</div>
<div class="t" style="left:1016.5px;top:539.8px;width:135.0px;text-align:center;font-size:12px;color:#111;-webkit-text-stroke:0.3px #111">8.68%</div>
<div class="t" style="left:1151.5px;top:539.8px;width:135.0px;text-align:center;font-size:12px;color:#111;-webkit-text-stroke:0.3px #111">315</div>
<div class="t" style="left:1286.5px;top:539.8px;width:180.0px;text-align:center;font-size:12px;color:#111;-webkit-text-stroke:0.3px #111">0</div>
<div class="t" style="left:1466.5px;top:540.2px;width:117.0px;text-align:center;font-size:11px;color:#44b05c;-webkit-text-stroke:0.3px #44b05c">$0</div>
<div class="t" style="left:1594.0px;top:539.3px;font-size:12px;color:#111;-webkit-text-stroke:0.3px #111">0</div>
<div class="t" style="left:1700.0px;top:540.2px;width:52.5px;text-align:right;font-size:10.5px;color:#2b3340;-webkit-text-stroke:0.1px #2b3340;letter-spacing:0.3px">(0%)</div>
<div class="t" style="left:1763.5px;top:540.2px;width:121.8px;text-align:center;font-size:11px;font-weight:700;color:#111">0%</div>
<div class="abs" style="left:270.2px;top:575.9px;width:16.5px;height:16.5px;border:1px solid #d3d7de;border-radius:3px;background:#fff"></div>
<svg class="abs" style="left:308.2px;top:578.1px" width="11.3" height="11.3" viewBox="0 0 48 48"><path fill="#EA4335" d="M24 9.5c3.54 0 6.71 1.22 9.21 3.6l6.85-6.85C35.9 2.38 30.47 0 24 0 14.62 0 6.51 5.38 2.56 13.22l7.98 6.19C12.43 13.72 17.74 9.5 24 9.5z"/><path fill="#4285F4" d="M46.98 24.55c0-1.57-.15-3.09-.38-4.55H24v9.02h12.94c-.58 2.96-2.26 5.48-4.78 7.18l7.73 6c4.51-4.18 7.09-10.36 7.09-17.65z"/><path fill="#FBBC05" d="M10.53 28.59c-.48-1.45-.76-2.99-.76-4.59s.27-3.14.76-4.59l-7.98-6.19C.92 16.46 0 20.12 0 24c0 3.88.92 7.54 2.56 10.78l7.97-6.19z"/><path fill="#34A853" d="M24 48c6.48 0 11.93-2.13 15.89-5.81l-7.73-6c-2.15 1.45-4.92 2.3-8.16 2.3-6.26 0-11.57-4.22-13.47-9.91l-7.98 6.19C6.51 42.62 14.62 48 24 48z"/></svg>
<div class="t" style="left:331.0px;top:578.1px;font-size:12px;color:#111;letter-spacing:0.3px;-webkit-text-stroke:0.2px #111">Social Media Analytics</div>
<div class="t" style="left:611.5px;top:578.1px;width:135.0px;text-align:center;font-size:12px;color:#111;-webkit-text-stroke:0.3px #111">$1,617.14</div>
<div class="t" style="left:746.5px;top:578.1px;width:135.0px;text-align:center;font-size:12px;color:#111;-webkit-text-stroke:0.3px #111">4,887</div>
<div class="t" style="left:881.5px;top:578.1px;width:135.0px;text-align:center;font-size:12px;color:#111;-webkit-text-stroke:0.3px #111">373</div>
<div class="t" style="left:1016.5px;top:578.1px;width:135.0px;text-align:center;font-size:12px;color:#111;-webkit-text-stroke:0.3px #111">8.19%</div>
<div class="t" style="left:1151.5px;top:578.1px;width:135.0px;text-align:center;font-size:12px;color:#111;-webkit-text-stroke:0.3px #111">296</div>
<div class="t" style="left:1286.5px;top:578.1px;width:180.0px;text-align:center;font-size:12px;color:#111;-webkit-text-stroke:0.3px #111">0</div>
<div class="t" style="left:1466.5px;top:578.5px;width:117.0px;text-align:center;font-size:11px;color:#44b05c;-webkit-text-stroke:0.3px #44b05c">$0</div>
<div class="t" style="left:1594.0px;top:578.1px;font-size:12px;color:#111;-webkit-text-stroke:0.3px #111">0</div>
<div class="t" style="left:1700.0px;top:578.5px;width:52.5px;text-align:right;font-size:10.5px;color:#2b3340;-webkit-text-stroke:0.1px #2b3340;letter-spacing:0.3px">(0%)</div>
<div class="t" style="left:1763.5px;top:578.5px;width:121.8px;text-align:center;font-size:11px;font-weight:700;color:#111">0%</div>
<div class="abs" style="left:270.2px;top:614.3px;width:16.5px;height:16.5px;border:1px solid #d3d7de;border-radius:3px;background:#fff"></div>
<svg class="abs" style="left:308.2px;top:616.5px" width="11.3" height="11.3" viewBox="0 0 48 48"><path fill="#EA4335" d="M24 9.5c3.54 0 6.71 1.22 9.21 3.6l6.85-6.85C35.9 2.38 30.47 0 24 0 14.62 0 6.51 5.38 2.56 13.22l7.98 6.19C12.43 13.72 17.74 9.5 24 9.5z"/><path fill="#4285F4" d="M46.98 24.55c0-1.57-.15-3.09-.38-4.55H24v9.02h12.94c-.58 2.96-2.26 5.48-4.78 7.18l7.73 6c4.51-4.18 7.09-10.36 7.09-17.65z"/><path fill="#FBBC05" d="M10.53 28.59c-.48-1.45-.76-2.99-.76-4.59s.27-3.14.76-4.59l-7.98-6.19C.92 16.46 0 20.12 0 24c0 3.88.92 7.54 2.56 10.78l7.97-6.19z"/><path fill="#34A853" d="M24 48c6.48 0 11.93-2.13 15.89-5.81l-7.73-6c-2.15 1.45-4.92 2.3-8.16 2.3-6.26 0-11.57-4.22-13.47-9.91l-7.98 6.19C6.51 42.62 14.62 48 24 48z"/></svg>
<div class="t" style="left:331.0px;top:616.5px;font-size:12px;color:#111;letter-spacing:0.3px;-webkit-text-stroke:0.2px #111">Social Media Publishing</div>
<div class="t" style="left:611.5px;top:616.5px;width:135.0px;text-align:center;font-size:12px;color:#111;-webkit-text-stroke:0.3px #111">$727.8</div>
<div class="t" style="left:746.5px;top:616.5px;width:135.0px;text-align:center;font-size:12px;color:#111;-webkit-text-stroke:0.3px #111">4,361</div>
<div class="t" style="left:881.5px;top:616.5px;width:135.0px;text-align:center;font-size:12px;color:#111;-webkit-text-stroke:0.3px #111">200</div>
<div class="t" style="left:1016.5px;top:616.5px;width:135.0px;text-align:center;font-size:12px;color:#111;-webkit-text-stroke:0.3px #111">5.33%</div>
<div class="t" style="left:1151.5px;top:616.5px;width:135.0px;text-align:center;font-size:12px;color:#111;-webkit-text-stroke:0.3px #111">175</div>
<div class="t" style="left:1286.5px;top:616.5px;width:180.0px;text-align:center;font-size:12px;color:#111;-webkit-text-stroke:0.3px #111">0</div>
<div class="t" style="left:1466.5px;top:616.9px;width:117.0px;text-align:center;font-size:11px;color:#44b05c;-webkit-text-stroke:0.3px #44b05c">$0</div>
<div class="t" style="left:1594.0px;top:616.0px;font-size:12px;color:#111;-webkit-text-stroke:0.3px #111">0</div>
<div class="t" style="left:1700.0px;top:616.9px;width:52.5px;text-align:right;font-size:10.5px;color:#2b3340;-webkit-text-stroke:0.1px #2b3340;letter-spacing:0.3px">(0%)</div>
<div class="t" style="left:1763.5px;top:616.9px;width:121.8px;text-align:center;font-size:11px;font-weight:700;color:#111">0%</div>
<div class="abs" style="left:270.2px;top:652.7px;width:16.5px;height:16.5px;border:1px solid #d3d7de;border-radius:3px;background:#fff"></div>
<svg class="abs" style="left:308.2px;top:654.9px" width="11.3" height="11.3" viewBox="0 0 48 48"><path fill="#EA4335" d="M24 9.5c3.54 0 6.71 1.22 9.21 3.6l6.85-6.85C35.9 2.38 30.47 0 24 0 14.62 0 6.51 5.38 2.56 13.22l7.98 6.19C12.43 13.72 17.74 9.5 24 9.5z"/><path fill="#4285F4" d="M46.98 24.55c0-1.57-.15-3.09-.38-4.55H24v9.02h12.94c-.58 2.96-2.26 5.48-4.78 7.18l7.73 6c4.51-4.18 7.09-10.36 7.09-17.65z"/><path fill="#FBBC05" d="M10.53 28.59c-.48-1.45-.76-2.99-.76-4.59s.27-3.14.76-4.59l-7.98-6.19C.92 16.46 0 20.12 0 24c0 3.88.92 7.54 2.56 10.78l7.97-6.19z"/><path fill="#34A853" d="M24 48c6.48 0 11.93-2.13 15.89-5.81l-7.73-6c-2.15 1.45-4.92 2.3-8.16 2.3-6.26 0-11.57-4.22-13.47-9.91l-7.98 6.19C6.51 42.62 14.62 48 24 48z"/></svg>
<div class="t" style="left:331.0px;top:654.9px;font-size:12px;color:#111;letter-spacing:0.3px;-webkit-text-stroke:0.2px #111">Agorapulse</div>
<div class="t" style="left:611.5px;top:654.9px;width:135.0px;text-align:center;font-size:12px;color:#111;-webkit-text-stroke:0.3px #111">$1,164.83</div>
<div class="t" style="left:746.5px;top:654.9px;width:135.0px;text-align:center;font-size:12px;color:#111;-webkit-text-stroke:0.3px #111">2,766</div>
<div class="t" style="left:881.5px;top:654.9px;width:135.0px;text-align:center;font-size:12px;color:#111;-webkit-text-stroke:0.3px #111">142</div>
<div class="t" style="left:1016.5px;top:654.9px;width:135.0px;text-align:center;font-size:12px;color:#111;-webkit-text-stroke:0.3px #111">5.98%</div>
<div class="t" style="left:1151.5px;top:654.9px;width:135.0px;text-align:center;font-size:12px;color:#111;-webkit-text-stroke:0.3px #111">124</div>
<div class="t" style="left:1286.5px;top:654.9px;width:180.0px;text-align:center;font-size:12px;color:#111;-webkit-text-stroke:0.3px #111">0</div>
<div class="t" style="left:1466.5px;top:655.3px;width:117.0px;text-align:center;font-size:11px;color:#44b05c;-webkit-text-stroke:0.3px #44b05c">$0</div>
<div class="t" style="left:1594.0px;top:654.9px;font-size:12px;color:#111;-webkit-text-stroke:0.3px #111">0</div>
<div class="t" style="left:1700.0px;top:655.3px;width:52.5px;text-align:right;font-size:10.5px;color:#2b3340;-webkit-text-stroke:0.1px #2b3340;letter-spacing:0.3px">(0%)</div>
<div class="t" style="left:1763.5px;top:655.3px;width:121.8px;text-align:center;font-size:11px;font-weight:700;color:#111">0%</div>
<div class="abs" style="left:270.2px;top:691.0px;width:16.5px;height:16.5px;border:1px solid #d3d7de;border-radius:3px;background:#fff"></div>
<svg class="abs" style="left:308.2px;top:693.2px" width="11.3" height="11.3" viewBox="0 0 48 48"><path fill="#EA4335" d="M24 9.5c3.54 0 6.71 1.22 9.21 3.6l6.85-6.85C35.9 2.38 30.47 0 24 0 14.62 0 6.51 5.38 2.56 13.22l7.98 6.19C12.43 13.72 17.74 9.5 24 9.5z"/><path fill="#4285F4" d="M46.98 24.55c0-1.57-.15-3.09-.38-4.55H24v9.02h12.94c-.58 2.96-2.26 5.48-4.78 7.18l7.73 6c4.51-4.18 7.09-10.36 7.09-17.65z"/><path fill="#FBBC05" d="M10.53 28.59c-.48-1.45-.76-2.99-.76-4.59s.27-3.14.76-4.59l-7.98-6.19C.92 16.46 0 20.12 0 24c0 3.88.92 7.54 2.56 10.78l7.97-6.19z"/><path fill="#34A853" d="M24 48c6.48 0 11.93-2.13 15.89-5.81l-7.73-6c-2.15 1.45-4.92 2.3-8.16 2.3-6.26 0-11.57-4.22-13.47-9.91l-7.98 6.19C6.51 42.62 14.62 48 24 48z"/></svg>
<div class="t" style="left:331.0px;top:693.2px;font-size:12px;color:#111;letter-spacing:0.3px;-webkit-text-stroke:0.2px #111">Buffer</div>
<div class="t" style="left:611.5px;top:693.2px;width:135.0px;text-align:center;font-size:12px;color:#111;-webkit-text-stroke:0.3px #111">$423.22</div>
<div class="t" style="left:746.5px;top:693.2px;width:135.0px;text-align:center;font-size:12px;color:#111;-webkit-text-stroke:0.3px #111">1,104</div>
<div class="t" style="left:881.5px;top:693.2px;width:135.0px;text-align:center;font-size:12px;color:#111;-webkit-text-stroke:0.3px #111">74</div>
<div class="t" style="left:1016.5px;top:693.2px;width:135.0px;text-align:center;font-size:12px;color:#111;-webkit-text-stroke:0.3px #111">6.33%</div>
<div class="t" style="left:1151.5px;top:693.2px;width:135.0px;text-align:center;font-size:12px;color:#111;-webkit-text-stroke:0.3px #111">76</div>
<div class="t" style="left:1286.5px;top:693.2px;width:180.0px;text-align:center;font-size:12px;color:#111;-webkit-text-stroke:0.3px #111">0</div>
<div class="t" style="left:1466.5px;top:693.6px;width:117.0px;text-align:center;font-size:11px;color:#44b05c;-webkit-text-stroke:0.3px #44b05c">$0</div>
<div class="t" style="left:1594.0px;top:692.7px;font-size:12px;color:#111;-webkit-text-stroke:0.3px #111">0</div>
<div class="t" style="left:1700.0px;top:693.6px;width:52.5px;text-align:right;font-size:10.5px;color:#2b3340;-webkit-text-stroke:0.1px #2b3340;letter-spacing:0.3px">(0%)</div>
<div class="t" style="left:1763.5px;top:693.6px;width:121.8px;text-align:center;font-size:11px;font-weight:700;color:#111">0%</div>
<div class="abs" style="left:1903px;top:334px;width:4px;height:384px;background:linear-gradient(90deg,rgba(0,0,0,0),rgba(0,0,0,0.06))"></div>
<div class="abs" style="left:260px;top:739.5px;width:1647px;height:53px;background:#fff;border-radius:4px;box-shadow:0 1px 2px rgba(0,0,0,0.12)"></div>
<div class="t" style="left:274.5px;top:759px;font-size:12.5px;letter-spacing:0.08px;color:#737b87">Showing <span style="color:#1f2937;-webkit-text-stroke:0.3px #1f2937">10</span> of <span style="color:#1f2937;-webkit-text-stroke:0.3px #1f2937">26</span> records &nbsp;<i style="color:#6623d6;letter-spacing:0.1px">(scroll to bottom to load more)</i></div>
<div class="abs" style="left:1815px;top:753.5px;width:78px;height:24px;border-radius:5px;background:#ede8fb"></div>
<div class="t" style="left:1815.0px;top:761.0px;width:78.0px;text-align:center;font-size:10.3px;font-weight:700;color:#6425d0">Reset view</div>
</body></html>
